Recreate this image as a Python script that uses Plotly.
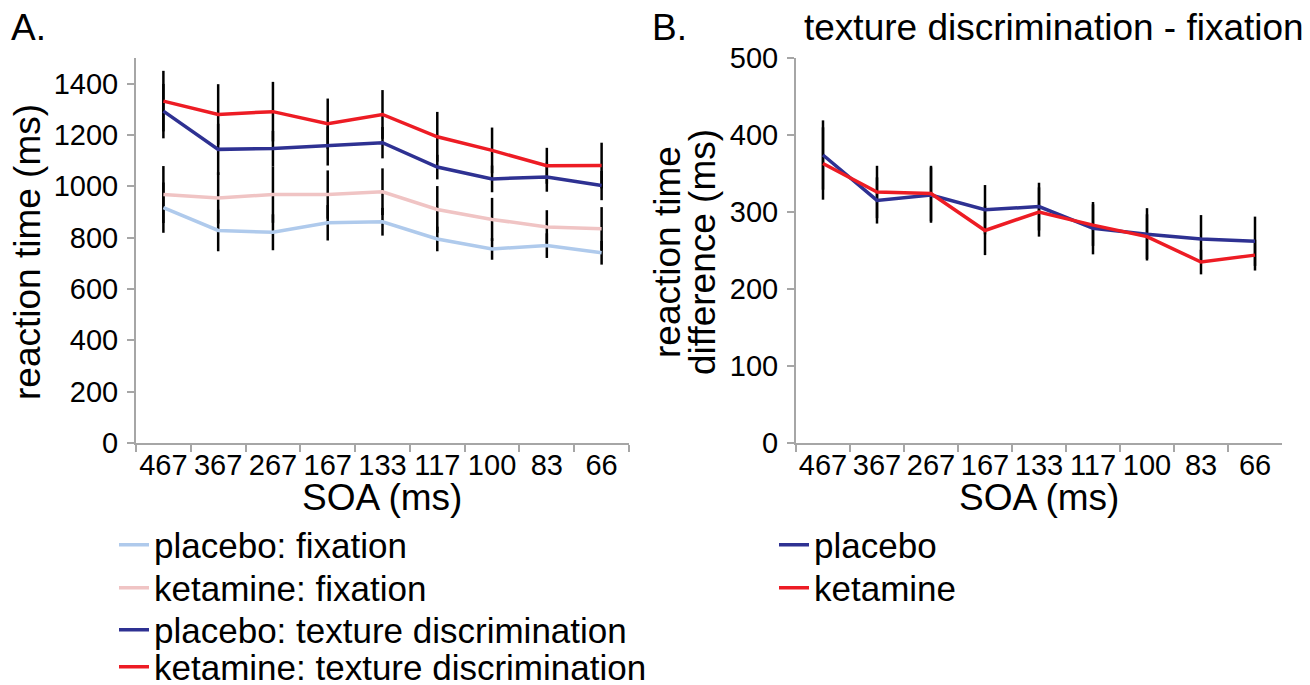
import plotly.graph_objects as go

# ---------------- data ----------------
soa = ["467", "367", "267", "167", "133", "117", "100", "83", "66"]

placebo_fix = [917, 828, 821, 858, 862, 795, 756, 769, 741]
placebo_fix_err = [98, 81, 70, 69, 54, 48, 42, 48, 46]
ketamine_fix = [968, 955, 968, 968, 979, 910, 871, 842, 835]
ketamine_fix_err = [111, 100, 110, 94, 91, 91, 84, 65, 84]
placebo_tex = [1293, 1144, 1147, 1157, 1170, 1075, 1029, 1036, 1003]
placebo_tex_err = [106, 100, 69, 76, 61, 48, 52, 57, 57]
ketamine_tex = [1332, 1280, 1291, 1244, 1280, 1193, 1140, 1080, 1081]
ketamine_tex_err = [118, 118, 116, 98, 95, 97, 89, 70, 89]

placebo_diff = [374, 315, 322, 303, 307, 279, 271, 265, 262]
placebo_diff_err = [45, 30, 36, 32, 31, 34, 34, 31, 32]
ketamine_diff = [363, 326, 324, 276, 300, 283, 268, 235, 244]
ketamine_diff_err = [47, 34, 36, 32, 32, 27, 29, 16, 20]

yticks_a = [0, 200, 400, 600, 800, 1000, 1200, 1400]
yticks_b = [0, 100, 200, 300, 400, 500]

# ---------------- style ----------------
FONT = "Arial, Liberation Sans, sans-serif"
C_PF = "#afcaec"
C_KF = "#f0c4c4"
C_PT = "#2e3192"
C_KT = "#ed1c24"
AXC = "#a6a6a6"

# the page body adds an 8px margin; size the figure so the window fits it
OFF = 8
W, H = 1310 - OFF, 685 - OFF
ML, MR, MT, MB = 136 - OFF, 28, 58 - OFF, 242
PW = W - ML - MR
PH = H - MT - MB

# (name, values, errors, colour, legend id, legend left px, legend row px)
panel_a = [
    ("placebo: fixation", placebo_fix, placebo_fix_err, C_PF, "legend", 114, 545),
    ("ketamine: fixation", ketamine_fix, ketamine_fix_err, C_KF, "legend3", 114, 588),
    ("placebo: texture discrimination", placebo_tex, placebo_tex_err, C_PT, "legend4", 114, 630),
    ("ketamine: texture discrimination", ketamine_tex, ketamine_tex_err, C_KT, "legend5", 114, 667),
]
panel_b = [
    ("placebo", placebo_diff, placebo_diff_err, C_PT, "legend2", 774, 545),
    ("ketamine", ketamine_diff, ketamine_diff_err, C_KT, "legend6", 774, 588),
]

fig = go.Figure()

# error bars first (drawn beneath the lines)
for name, vals, errs, col, lg, lx, ly in panel_a:
    fig.add_trace(go.Scatter(
        x=soa, y=vals, mode="markers", marker=dict(size=1, opacity=0),
        error_y=dict(type="data", array=errs, visible=True, color="black",
                     thickness=2.5, width=0),
        showlegend=False, hoverinfo="skip", xaxis="x", yaxis="y"))
for name, vals, errs, col, lg, lx, ly in panel_b:
    fig.add_trace(go.Scatter(
        x=soa, y=vals, mode="markers", marker=dict(size=1, opacity=0),
        error_y=dict(type="data", array=errs, visible=True, color="black",
                     thickness=2.5, width=0),
        showlegend=False, hoverinfo="skip", xaxis="x2", yaxis="y2"))

LFS = 35
legends = {}
# lines
for series, xa, ya in ((panel_a, "x", "y"), (panel_b, "x2", "y2")):
    for name, vals, errs, col, lg, lx, ly in series:
        fig.add_trace(go.Scatter(
            x=soa, y=vals, mode="lines", name=name,
            line=dict(color=col, width=3.5), xaxis=xa, yaxis=ya,
            legend=lg))
        legends[lg] = dict(
            x=(lx - OFF) / W, xref="container",
            y=1 - (ly - OFF) / H, yref="container",
            xanchor="left", yanchor="middle",
            font=dict(family=FONT, size=LFS, color="black"),
            bgcolor="rgba(0,0,0,0)", borderwidth=0)


def px_x(p):
    return (p - OFF - ML) / PW


def px_y(p):
    return (H - MB - (p - OFF)) / PH


xa_common = dict(
    type="category", range=[-0.5, 8.5], tickson="boundaries",
    showline=True, linecolor=AXC, linewidth=2, ticks="outside",
    tickcolor=AXC, tickwidth=2, ticklen=7, showgrid=False, zeroline=False,
    tickfont=dict(family=FONT, size=29, color="black"),
    tickangle=0, ticklabelstandoff=-5, automargin=False,
)
ya_common = dict(
    showline=True, linecolor=AXC, linewidth=2, ticks="outside",
    tickcolor=AXC, tickwidth=2, ticklen=7, showgrid=False, zeroline=False,
    tickfont=dict(family=FONT, size=29, color="black"),
    ticklabelstandoff=3, automargin=False,
)

fig.update_layout(
    width=W, height=H,
    margin=dict(l=ML, r=MR, t=MT, b=MB, autoexpand=False),
    paper_bgcolor="white", plot_bgcolor="white",
    font=dict(family=FONT, color="black"),
    xaxis=dict(domain=[0, px_x(629)], anchor="y", **xa_common),
    xaxis2=dict(domain=[px_x(796), 1], anchor="y2", **xa_common),
    yaxis=dict(domain=[0, 1], anchor="x", range=[0, 1500],
               tickvals=yticks_a, **ya_common),
    yaxis2=dict(domain=[0, 1], anchor="x2", range=[0, 500],
                tickvals=yticks_b, **ya_common),
    showlegend=True,
    **legends,
)

ann = []
TFS = 37
# panel labels and title
ann.append(dict(text="A.", x=px_x(9), y=px_y(28), xref="paper", yref="paper",
                xanchor="left", yanchor="middle", showarrow=False,
                font=dict(family=FONT, size=TFS)))
ann.append(dict(text="B.", x=px_x(650), y=px_y(28), xref="paper", yref="paper",
                xanchor="left", yanchor="middle", showarrow=False,
                font=dict(family=FONT, size=TFS)))
ann.append(dict(text="texture discrimination - fixation", x=px_x(1306),
                y=px_y(28), xref="paper", yref="paper",
                xanchor="right", yanchor="middle", showarrow=False,
                font=dict(family=FONT, size=TFS)))
# axis titles
ann.append(dict(text="SOA (ms)", x=px_x(382), y=px_y(497), xref="paper",
                yref="paper", xanchor="center", yanchor="middle",
                showarrow=False, font=dict(family=FONT, size=TFS)))
ann.append(dict(text="SOA (ms)", x=px_x(1039), y=px_y(497), xref="paper",
                yref="paper", xanchor="center", yanchor="middle",
                showarrow=False, font=dict(family=FONT, size=TFS)))
ann.append(dict(text="reaction time (ms)", x=px_x(28), y=px_y(252),
                xref="paper", yref="paper", xanchor="center",
                yanchor="middle", textangle=-90, showarrow=False,
                font=dict(family=FONT, size=TFS)))
ann.append(dict(text="reaction time", x=px_x(668), y=px_y(252),
                xref="paper", yref="paper", xanchor="center",
                yanchor="middle", textangle=-90, showarrow=False,
                font=dict(family=FONT, size=TFS)))
ann.append(dict(text="difference (ms)", x=px_x(703), y=px_y(252),
                xref="paper", yref="paper", xanchor="center",
                yanchor="middle", textangle=-90, showarrow=False,
                font=dict(family=FONT, size=TFS)))
fig.update_layout(annotations=ann)

fig.write_html("out.html")
